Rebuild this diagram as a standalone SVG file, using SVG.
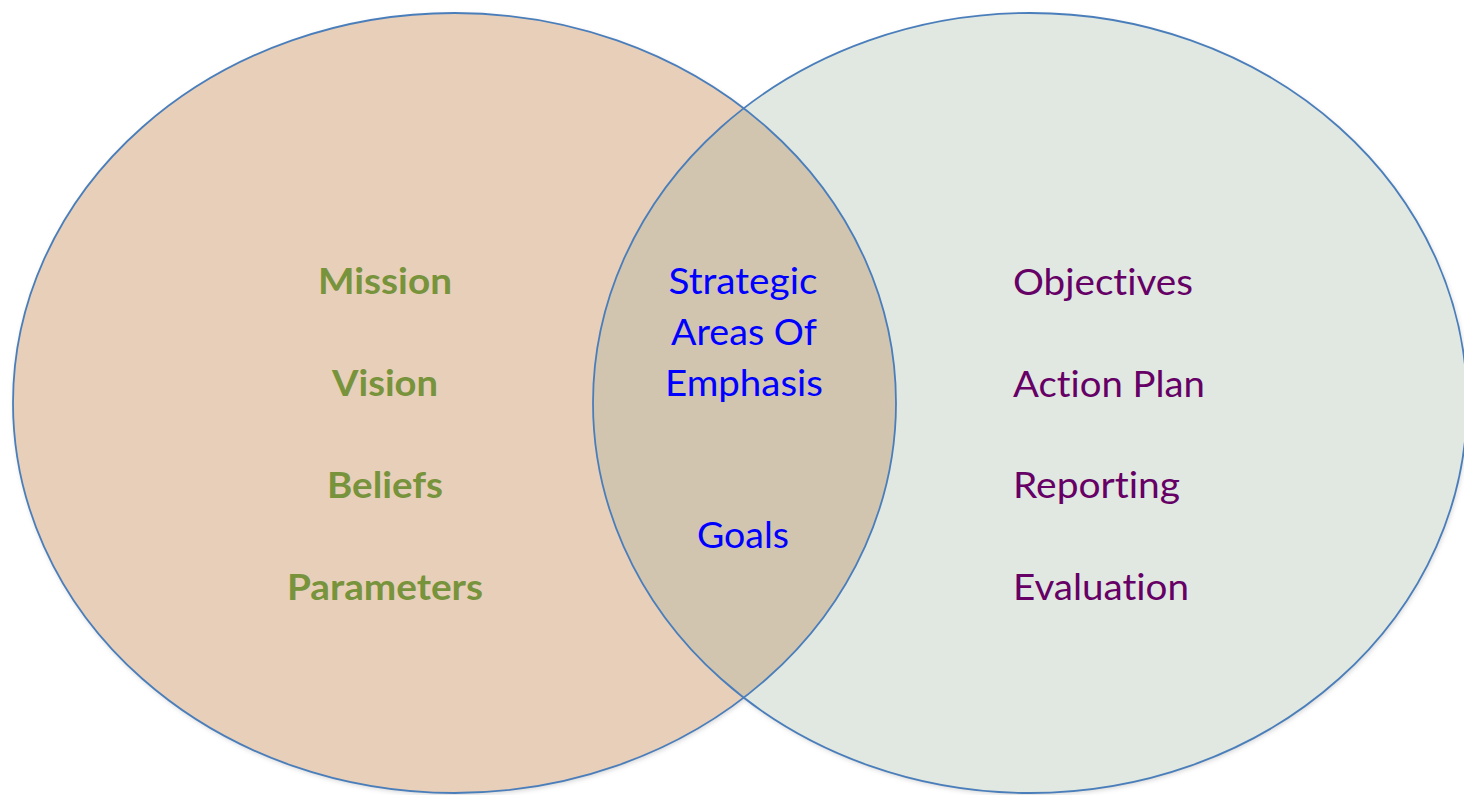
<svg xmlns="http://www.w3.org/2000/svg" width="1464" height="795" viewBox="0 0 1464 795">
  <defs>
    <style>
      .ring { fill: none; stroke: #4a7ebb; stroke-width: 1.8; }
      .lbl { font-family: Lato, "Open Sans", "Liberation Sans", sans-serif; font-size: 36px; font-variant-ligatures: none; font-feature-settings: "liga" 0; }
      .core { fill: #77933c; font-weight: bold; text-anchor: middle; }
      .shared { fill: #0000ff; text-anchor: middle; }
      .ops { fill: #660066; }
    </style>
    <filter id="soft" x="-5%" y="-5%" width="110%" height="110%">
      <feGaussianBlur stdDeviation="2.5"/>
    </filter>
    <clipPath id="rightClip">
      <ellipse cx="1030" cy="403" rx="437" ry="390"/>
    </clipPath>
  </defs>

  <rect width="1464" height="795" fill="#ffffff"/>

  <!-- soft shadows under both circles -->
  <g opacity="0.35" filter="url(#soft)">
    <ellipse cx="455.5" cy="405" rx="441.5" ry="390" fill="#808080"/>
    <ellipse cx="1031" cy="405" rx="437" ry="390" fill="#808080"/>
  </g>

  <g id="foundation">
    <ellipse cx="454.5" cy="403" rx="441.5" ry="390" fill="#e8cfb9"/>
  </g>
  <g id="execution">
    <ellipse cx="1030" cy="403" rx="437" ry="390" fill="#e1e8e1"/>
  </g>
  <g id="overlap">
    <ellipse cx="454.5" cy="403" rx="441.5" ry="390" fill="#d1c5b0" clip-path="url(#rightClip)"/>
  </g>

  <!-- outlines -->
  <g id="outlines">
    <ellipse class="ring" cx="454.5" cy="403" rx="441.5" ry="390"/>
    <ellipse class="ring" cx="1030" cy="403" rx="437" ry="390"/>
  </g>

  <g id="foundation-labels" class="lbl core">
    <text x="385" y="294" textLength="134" lengthAdjust="spacingAndGlyphs">Mission</text>
    <text x="385" y="396" textLength="106" lengthAdjust="spacingAndGlyphs">Vision</text>
    <text x="385" y="498" textLength="116" lengthAdjust="spacingAndGlyphs">Beliefs</text>
    <text x="385" y="600" textLength="196" lengthAdjust="spacingAndGlyphs">Parameters</text>
  </g>

  <g id="shared-labels" class="lbl shared">
    <text x="743" y="294" textLength="149" lengthAdjust="spacingAndGlyphs">Strategic</text>
    <text x="744" y="345" textLength="146" lengthAdjust="spacingAndGlyphs">Areas Of</text>
    <text x="744" y="396" textLength="158" lengthAdjust="spacingAndGlyphs">Emphasis</text>
    <text x="743" y="548" textLength="92" lengthAdjust="spacingAndGlyphs">Goals</text>
  </g>

  <g id="execution-labels" class="lbl ops">
    <text x="1013" y="295" textLength="180" lengthAdjust="spacingAndGlyphs">Objectives</text>
    <text x="1013" y="397" textLength="192" lengthAdjust="spacingAndGlyphs">Action Plan</text>
    <text x="1013" y="498" textLength="167" lengthAdjust="spacingAndGlyphs">Reporting</text>
    <text x="1013" y="600" textLength="176" lengthAdjust="spacingAndGlyphs">Evaluation</text>
  </g>
</svg>
